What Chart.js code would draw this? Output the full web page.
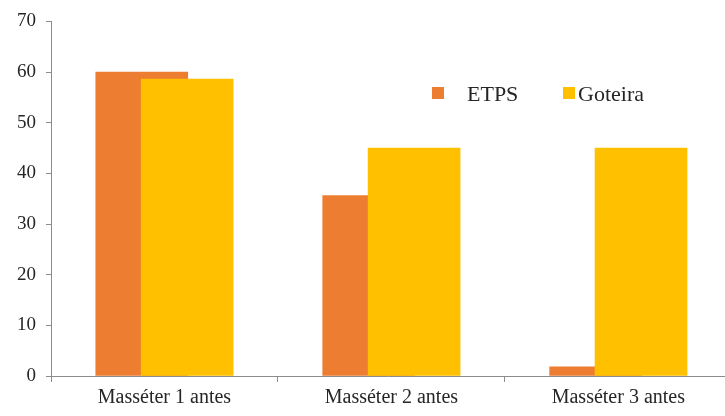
<!DOCTYPE html>
<html>
<head>
<meta charset="utf-8">
<script src="https://cdn.jsdelivr.net/npm/chart.js@4/dist/chart.umd.min.js"></script>
<style>
	html, body { margin: 0; padding: 0; background: #fff; overflow: hidden; }
	#wrap { width: 725px; height: 416px; }
</style>
</head>
<body>
<div id="wrap"><canvas id="bar-chartcanvas"></canvas></div>
<script>

var categories = ["Masséter 1 antes", "Masséter 2 antes", "Masséter 3 antes"];
var etps = [60, 35.6, 1.8];
var goteira = [58.6, 45, 45];
var yTicks = [0, 10, 20, 30, 40, 50, 60, 70];

var serif = "'Liberation Serif', 'Times New Roman', serif";
var axisGray = "#8c8c8c";
var textColor = "#262626";
var none = "rgba(0,0,0,0)";

// bars of a group overlap: each one shifted a little off the category centre
function toPoints(values, shift) {
	return values.map(function(v, i) {
		return { x: i + shift, y: v };
	});
}

// legend sits inside the plot, drawn by hand
var innerLegend = {
	id: "innerLegend",
	afterDraw: function(chart) {
		var ctx = chart.ctx;
		var items = [
			{ ds: chart.data.datasets[0], box: 432, text: 467 },
			{ ds: chart.data.datasets[1], box: 563, text: 578 }
		];
		ctx.save();
		ctx.font = "22px " + serif;
		ctx.textBaseline = "alphabetic";
		items.forEach(function(it) {
			ctx.fillStyle = it.ds.backgroundColor;
			ctx.fillRect(it.box, 87, 12, 12);
			ctx.fillStyle = textColor;
			ctx.fillText(it.ds.label, it.text, 101);
		});
		ctx.restore();
	}
};

var data = {
	datasets : [
		{
			label : "ETPS",
			data : toPoints(etps, -0.1),
			backgroundColor : "#ED7D31",
			order : 2
		},
		{
			label : "Goteira",
			data : toPoints(goteira, 0.1),
			backgroundColor : "#FFC000",
			order : 1
		}
	]
};

var options = {
	responsive : true,
	maintainAspectRatio : false,
	animation : false,
	// plot runs off the right edge, the third category is cut
	layout : { padding : { top : 12, right : -3, left : 0, bottom : 0 } },
	datasets : {
		bar : { grouped : false, barThickness : 92, borderWidth : 0 }
	},
	plugins : {
		legend : { display : false },
		tooltip : { enabled : false }
	},
	scales : {
		x : {
			type : "linear",
			offset : false,
			min : -0.5,
			max : 2.47,
			afterBuildTicks : function(scale) {
				scale.ticks = [-0.5, 0, 0.5, 1, 1.5, 2].map(function(v) { return { value : v }; });
			},
			afterFit : function(scale) { scale.height = 40; },
			grid : {
				offset : false,
				drawOnChartArea : false,
				drawTicks : true,
				tickLength : 6,
				color : none,
				// marks only between the categories
				tickColor : function(c) {
					if (!c.tick || Number.isInteger(c.tick.value)) return none;
					return axisGray;
				}
			},
			border : { color : axisGray, width : 1 },
			ticks : {
				autoSkip : false,
				maxRotation : 0,
				padding : 4,
				color : textColor,
				font : { family : serif, size : 20 },
				callback : function(v) {
					return Number.isInteger(v) ? categories[v] : "";
				}
			}
		},
		y : {
			min : 0,
			max : 70,
			afterBuildTicks : function(scale) {
				scale.ticks = yTicks.map(function(v) { return { value : v }; });
			},
			afterFit : function(scale) { scale.width = 51; },
			grid : {
				drawOnChartArea : false,
				drawTicks : true,
				tickLength : 5,
				color : none,
				tickColor : axisGray
			},
			border : { color : axisGray, width : 1 },
			ticks : {
				padding : 10,
				color : textColor,
				font : { family : serif, size : 19 }
			}
		}
	}
};

var chart = new Chart(document.getElementById("bar-chartcanvas"), {
	type : "bar",
	data : data,
	options : options,
	plugins : [innerLegend]
});
</script>
</body>
</html>
